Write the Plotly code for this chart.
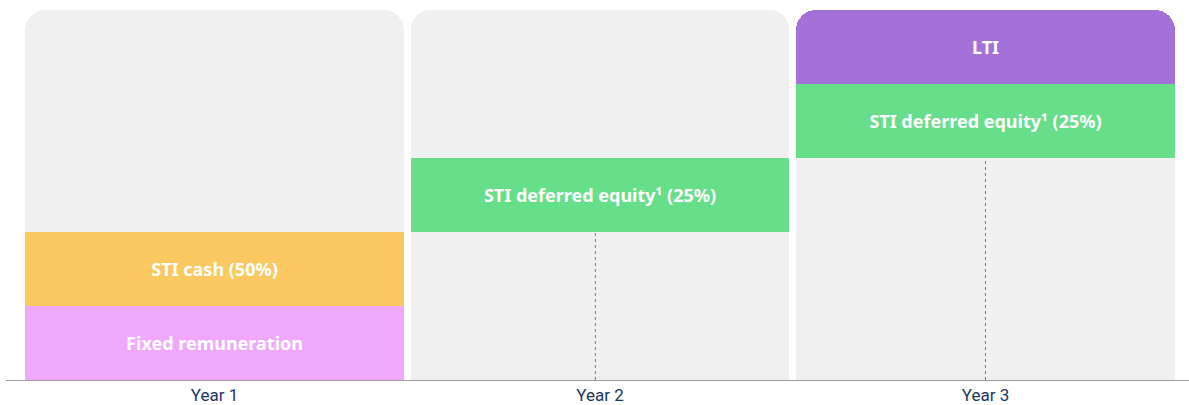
import plotly.graph_objects as go

years = ["Year 1", "Year 2", "Year 3"]
year_pos = [0, 1, 2]

# stacked segments per year, bottom to top (None = segment absent)
fixed_val = [1, None, None]
cash_val = [1, None, None]
gap_low_val = [None, 2, 3]
deferred_val = [None, 1, 1]
gap_high_val = [3, 2, None]
lti_val = [None, None, 1]

# dotted vesting markers under the deferred equity blocks
vest_x = [[0.988, 0.988], [2.0, 2.0]]
vest_y = [[0, 2], [0, 3]]

label_font = dict(family="Noto Sans", size=18, color="white")
bar_width = 0.983
GREY = "#F0F0F0"

fig = go.Figure()


def add_block(vals, color, label=None):
    texts = [f"<b>{label}</b>" if (v is not None and label) else "" for v in vals]
    fig.add_trace(go.Bar(
        x=year_pos, y=vals, width=bar_width,
        marker=dict(color=color, line_width=0),
        text=texts,
        textposition="inside", insidetextanchor="middle", textangle=0,
        insidetextfont=label_font, constraintext="none",
        hoverinfo="skip" if label is None else "x+y",
        name=label or "", showlegend=False,
    ))


add_block(fixed_val, "#EFA8FC", "Fixed remuneration")
add_block(cash_val, "#FBC862", "STI cash (50%)")
add_block(gap_low_val, GREY)
add_block(deferred_val, "#66DE8A", "STI deferred equity¹ (25%)")
add_block(gap_high_val, GREY)
add_block(lti_val, "#A371D7", "LTI")

for xs, ys in zip(vest_x, vest_y):
    fig.add_trace(go.Scatter(
        x=xs, y=ys, mode="lines",
        line=dict(color="#7A7A7A", width=1, dash="dot"),
        hoverinfo="skip", showlegend=False,
    ))

fig.update_layout(
    width=1189, height=405,
    margin=dict(l=6, r=0, t=10, b=25),
    barmode="stack", barcornerradius=20,
    plot_bgcolor="white", paper_bgcolor="white",
    showlegend=False,
)
fig.update_xaxes(
    range=[-0.541, 2.528], tickvals=year_pos, ticktext=years,
    showgrid=False, zeroline=False,
    showline=True, linecolor="#9E9E9E", linewidth=1,
    ticks="", tickfont=dict(family="Roboto", size=17, color="#1B365D"),
)
fig.update_yaxes(range=[0, 5], visible=False, showgrid=False)

fig.write_html(
    "out.html",
    config={"displayModeBar": False},
    post_script="document.body.style.margin='0';",
)
